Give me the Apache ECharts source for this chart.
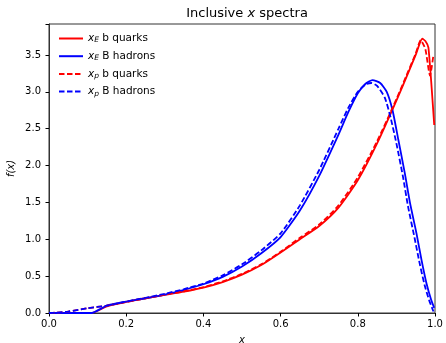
<!DOCTYPE html>
<html>
<head>
<meta charset="utf-8">
<script src="https://cdn.jsdelivr.net/npm/echarts@6/dist/echarts.min.js"></script>
<style>html,body{margin:0;padding:0;background:#fff}#c{width:446px;height:343px}</style>
</head>
<body>
<div id="c"></div>
<script>
// x grids and values
const xRedE = [0, 0.05, 0.1, 0.11, 0.15, 0.2, 0.25, 0.3, 0.35, 0.4, 0.45, 0.5, 0.55, 0.6, 0.65, 0.7, 0.75, 0.8, 0.85, 0.9, 0.93, 0.95, 0.967, 0.975, 0.983, 0.998];
const yRedE = [0, 0, 0, 0, 0.09, 0.15, 0.2, 0.245, 0.29, 0.345, 0.42, 0.52, 0.65, 0.82, 1.0, 1.18, 1.43, 1.8, 2.3, 2.88, 3.25, 3.5, 3.72, 3.69, 3.6, 2.55];

const xBlueE = [0, 0.05, 0.1, 0.11, 0.15, 0.2, 0.25, 0.3, 0.35, 0.4, 0.45, 0.5, 0.55, 0.6, 0.65, 0.7, 0.75, 0.775, 0.8, 0.82, 0.838, 0.858, 0.875, 0.89, 0.905, 0.922, 0.935, 0.952, 0.965, 0.978, 0.99, 0.998];
const yBlueE = [0, 0, 0, 0, 0.1, 0.155, 0.2, 0.25, 0.315, 0.39, 0.49, 0.63, 0.81, 1.03, 1.39, 1.86, 2.42, 2.72, 2.98, 3.11, 3.16, 3.12, 3.0, 2.75, 2.35, 1.89, 1.5, 1.08, 0.72, 0.4, 0.18, 0.07];

const xRedP = [0, 0.02, 0.05, 0.1, 0.15, 0.2, 0.25, 0.3, 0.35, 0.4, 0.45, 0.5, 0.55, 0.6, 0.65, 0.7, 0.75, 0.8, 0.85, 0.9, 0.93, 0.95, 0.963, 0.975, 0.987, 0.996];
const yRedP = [0, 0.005, 0.02, 0.065, 0.1, 0.15, 0.2, 0.25, 0.295, 0.35, 0.43, 0.53, 0.66, 0.83, 1.02, 1.2, 1.46, 1.84, 2.33, 2.9, 3.27, 3.52, 3.7, 3.58, 3.22, 3.5];

const xBlueP = [0, 0.02, 0.05, 0.1, 0.15, 0.2, 0.25, 0.3, 0.35, 0.4, 0.45, 0.5, 0.55, 0.6, 0.65, 0.7, 0.75, 0.775, 0.8, 0.82, 0.835, 0.85, 0.87, 0.885, 0.9, 0.917, 0.93, 0.947, 0.96, 0.973, 0.985, 0.996];
const yBlueP = [0, 0.005, 0.02, 0.065, 0.1, 0.155, 0.205, 0.26, 0.325, 0.4, 0.51, 0.66, 0.85, 1.08, 1.46, 1.94, 2.5, 2.78, 3.0, 3.1, 3.12, 3.08, 2.92, 2.65, 2.3, 1.85, 1.45, 1.02, 0.68, 0.38, 0.17, 0.02];

const xTicks = [0, 0.2, 0.4, 0.6, 0.8, 1.0];
const yTicks = [0, 0.5, 1.0, 1.5, 2.0, 2.5, 3.0, 3.5];

const names = ['xE b quarks', 'xE B hadrons', 'xp b quarks', 'xp B hadrons'];
const labels = {
  'xE b quarks': '{i|x}{s|E} b quarks',
  'xE B hadrons': '{i|x}{s|E} B hadrons',
  'xp b quarks': '{i|x}{s|p} b quarks',
  'xp B hadrons': '{i|x}{s|p} B hadrons'
};

function pairs(xs, ys) { return xs.map((x, i) => [x, ys[i]]); }

const FONT = 'DejaVu Sans';
const chart = echarts.init(document.getElementById('c'), null, { renderer: 'canvas' });
function mk(name, xs, ys, color, dashed) {
  return {
    name, type: 'line', data: pairs(xs, ys), symbol: 'none', smooth: 0.2,
    lineStyle: { color, width: 1.8, type: dashed ? [5.5, 2.5] : 'solid' },
    itemStyle: { color }, animation: false
  };
}
chart.setOption({
  animation: false,
  backgroundColor: '#fff',
  title: {
    text: '{n|Inclusive }{i|x}{n| spectra}', left: 242, top: 2, textAlign: 'center',
    textStyle: { fontFamily: FONT, fontSize: 13, fontWeight: 'normal', color: '#000',
      rich: { n: { fontFamily: FONT, fontSize: 13, color: '#000' },
              i: { fontFamily: FONT, fontSize: 13, fontStyle: 'italic', color: '#000' } } }
  },
  grid: { left: 49, right: 11, top: 24, bottom: 30, show: true, borderColor: '#333', borderWidth: 1,
          containLabel: false, outerBoundsMode: 'none' },
  legend: {
    orient: 'vertical', left: 53, top: 28, itemWidth: 24, itemHeight: 10, itemGap: 6.2,
    data: names,
    itemStyle: { opacity: 0 },
    formatter: n => labels[n],
    textStyle: { fontFamily: FONT, fontSize: 10.5, color: '#000',
      rich: { i: { fontFamily: FONT, fontStyle: 'italic', fontSize: 10.5, color: '#000' },
              s: { fontFamily: FONT, fontStyle: 'italic', fontSize: 7.5, color: '#000', verticalAlign: 'bottom', padding: [4, 0, 0, 0] } } }
  },
  xAxis: {
    type: 'value', min: 0, max: 1, interval: 0.2,
    name: 'x', nameLocation: 'middle', nameGap: 22,
    nameTextStyle: { fontFamily: FONT, fontStyle: 'italic', fontSize: 10, color: '#000' },
    axisLine: { show: true, lineStyle: { color: '#333', width: 1 } },
    axisTick: { show: true, inside: false, length: 3.5, lineStyle: { color: '#000' } },
    axisLabel: { fontFamily: FONT, fontSize: 10, color: '#000', margin: 6, formatter: v => v.toFixed(1) },
    splitLine: { show: false }
  },
  yAxis: {
    type: 'value', min: 0, max: 3.92, interval: 0.5,
    name: 'f(x)', nameLocation: 'middle', nameGap: 33, nameRotate: 90, nameMoveOverlap: false,
    nameTextStyle: { fontFamily: FONT, fontStyle: 'italic', fontSize: 10, color: '#000' },
    axisLine: { show: true, lineStyle: { color: '#333', width: 1 } },
    axisTick: { show: true, inside: false, length: 3.5, lineStyle: { color: '#000' } },
    axisLabel: { fontFamily: FONT, fontSize: 10, color: '#000', margin: 8,
      formatter: v => (yTicks.some(t => Math.abs(t - v) < 1e-9) ? v.toFixed(1) : '') },
    splitLine: { show: false }
  },
  series: [
    mk(names[0], xRedE, yRedE, '#ff0000', false),
    mk(names[1], xBlueE, yBlueE, '#0000ff', false),
    mk(names[2], xRedP, yRedP, '#ff0000', true),
    mk(names[3], xBlueP, yBlueP, '#0000ff', true)
  ]
});
</script>
</body>
</html>
